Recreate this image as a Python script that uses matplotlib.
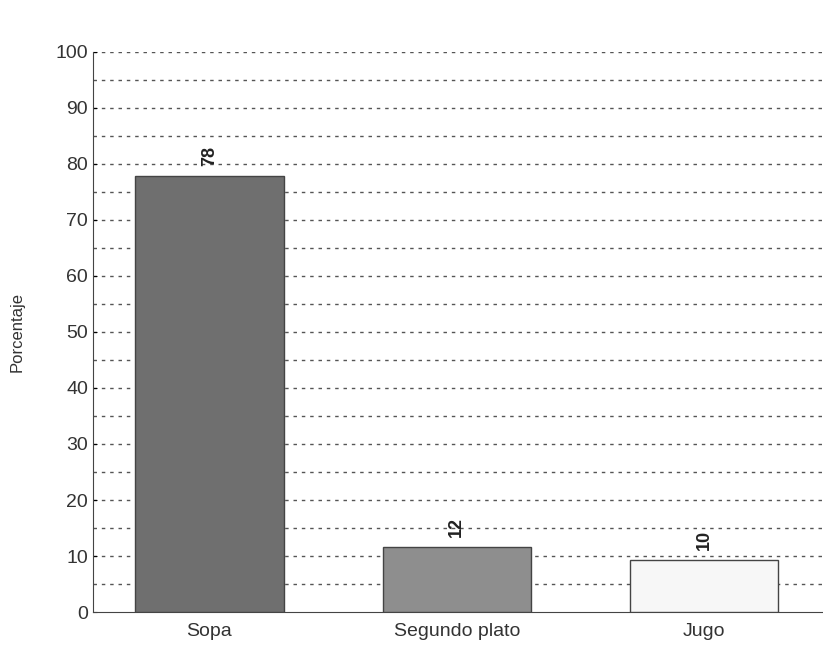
import matplotlib.pyplot as plt
import numpy as np

# datos del grafico
categorias = ["Sopa", "Segundo plato", "Jugo"]
valores = [77.8, 11.6, 9.3]
etiquetas = ["78", "12", "10"]
colores = ["#6f6f6f", "#8e8e8e", "#f7f7f7"]

plt.rcParams['font.family'] = ['Liberation Sans Narrow', 'Liberation Sans', 'DejaVu Sans']

fig = plt.figure(figsize=(8.23, 6.47), dpi=100)
ax = fig.add_axes([0.113, 0.054, 0.887, 0.866])

x = np.arange(len(categorias))
ax.bar(x, valores, width=0.6, color=colores, edgecolor="#444444", linewidth=1, zorder=3)

for xi, v, et in zip(x, valores, etiquetas):
    ax.text(xi, v + 1.8, et, rotation=90, ha="center", va="bottom",
            fontsize=13, fontweight="bold", color="#222222")

# grilla punteada cada 5
for y in np.arange(5, 101, 5):
    ax.axhline(y, color="#555555", linestyle=(0, (2.5, 3.5)), linewidth=1, zorder=1)

ax.set_xlim(-0.47, 2.48)
ax.set_ylim(0, 100)
ax.set_yticks(np.arange(0, 101, 10))
ax.set_xticks(x)
ax.set_xticklabels(categorias, fontsize=14, color="#333333")
ax.tick_params(axis="y", labelsize=14, labelcolor="#333333", length=3, direction="in")
ax.tick_params(axis="x", length=0, pad=8)
ax.set_ylabel("Porcentaje", fontsize=12, color="#333333", labelpad=22)

ax.spines["top"].set_visible(False)
ax.spines["right"].set_visible(False)
ax.spines["left"].set_color("#444444")
ax.spines["bottom"].set_color("#444444")

fig.savefig("out.png", dpi=100)
